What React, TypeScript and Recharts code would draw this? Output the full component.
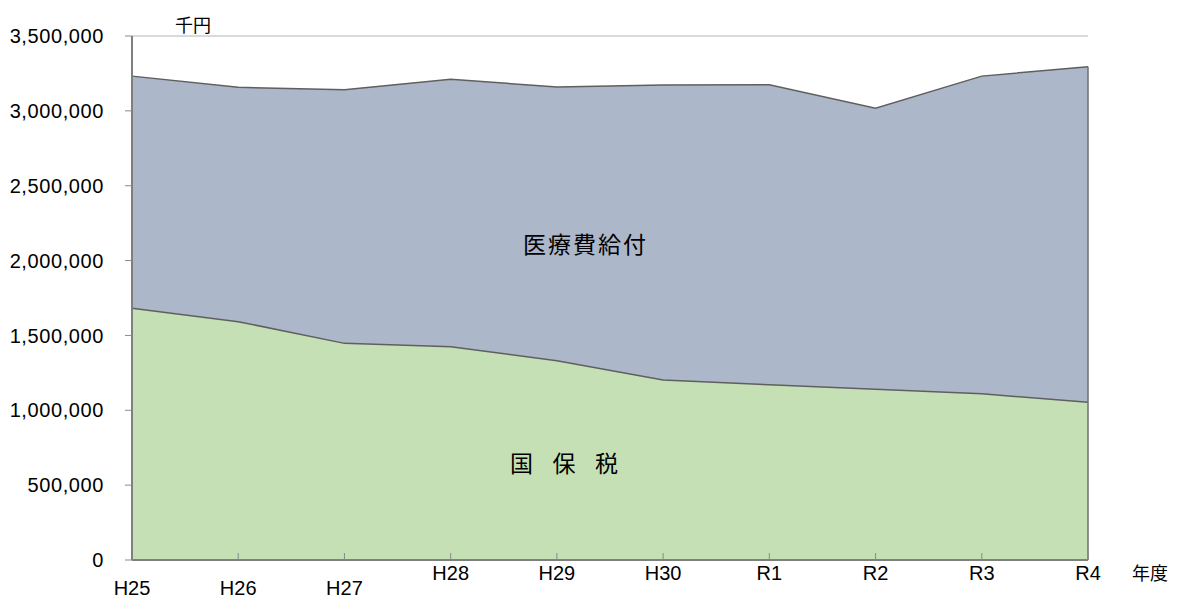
import React from 'react';
import { AreaChart, Area, XAxis, YAxis, CartesianGrid, ReferenceLine } from 'recharts';

const categories = ['H25', 'H26', 'H27', 'H28', 'H29', 'H30', 'R1', 'R2', 'R3', 'R4'];
const benefitValues = [3232000, 3157000, 3141000, 3211000, 3159000, 3173000, 3174000, 3017000, 3232000, 3295000];
const taxValues = [1681000, 1592000, 1447000, 1425000, 1331000, 1202000, 1170000, 1140000, 1110000, 1053000];
const yTicks = [0, 500000, 1000000, 1500000, 2000000, 2500000, 3000000, 3500000];

const benefitLabel = '医療費給付';
const taxLabel = '国 保 税';
const unitLabel = '千円';
const xUnitLabel = '年度';

const data = categories.map((c, i) => ({ year: c, benefit: benefitValues[i], tax: taxValues[i] }));

const NUM_FONT = '"Liberation Sans", Arial, sans-serif';
const CJK_FONT = '"Noto Sans CJK JP", "Noto Sans", sans-serif';

const fmt = (v: number) => v.toLocaleString('en-US');

const XTick = (props: any) => {
  const { x, y, payload, index } = props;
  const dy = index < 3 ? 28 : 13;
  return (
    <g>
      {index > 0 && <line x1={x} y1={y} x2={x} y2={y - 7} stroke="#8a8a8a" strokeWidth={1} />}
      <text x={x} y={y + dy} textAnchor="middle" dominantBaseline="central" fontFamily={NUM_FONT} fontSize={20} fill="#000">
        {payload.value}
      </text>
    </g>
  );
};

const Annotations = () => (
  <svg width={1179} height={599} style={{ position: 'absolute', left: 0, top: 0, pointerEvents: 'none' }}>
    <text x={193} y={24} textAnchor="middle" dominantBaseline="central" fontFamily={CJK_FONT} fontSize={18} fill="#000">{unitLabel}</text>
    <text x={1150} y={572} textAnchor="middle" dominantBaseline="central" fontFamily={CJK_FONT} fontSize={18} fill="#000">{xUnitLabel}</text>
    <text x={523} y={243} dominantBaseline="central" fontFamily={CJK_FONT} fontSize={23} fill="#000" textLength={123} lengthAdjust="spacing">{benefitLabel}</text>
    <text x={510} y={462} dominantBaseline="central" fontFamily={CJK_FONT} fontSize={23} fill="#000" textLength={108} lengthAdjust="spacing">{taxLabel}</text>
  </svg>
);

export default function App() {
  const last = data[data.length - 1];
  return (
    <div style={{ position: 'absolute', left: 0, top: 0, width: 1179, height: 599, background: '#fff' }}>
      <AreaChart width={1179} height={599} data={data} margin={{ top: 36, right: 91, bottom: 0, left: 0 }}>
        <CartesianGrid vertical={false} stroke="#b4b4b4" strokeWidth={1} />
        <XAxis
          dataKey="year"
          height={39}
          tick={<XTick />}
          tickLine={false}
          tickSize={0}
          tickMargin={0}
          axisLine={{ stroke: '#7f7f7f', strokeWidth: 2 }}
          interval={0}
        />
        <YAxis
          width={132}
          domain={[0, 3500000]}
          ticks={yTicks}
          tickFormatter={fmt}
          tick={{ fontFamily: NUM_FONT, fontSize: 20, fill: '#000', letterSpacing: 0.6 }}
          tickSize={7}
          tickMargin={21}
          tickLine={{ stroke: '#8a8a8a' }}
          axisLine={{ stroke: '#7f7f7f', strokeWidth: 2 }}
          interval={0}
        />
        <Area type="linear" dataKey="benefit" stroke="#5f5f5f" strokeWidth={1.5} fill="#adb7ca" fillOpacity={1} isAnimationActive={false} />
        <Area type="linear" dataKey="tax" stroke="#5f5f5f" strokeWidth={1.5} fill="#c5e0b4" fillOpacity={1} isAnimationActive={false} />
        <ReferenceLine segment={[{ x: last.year, y: 0 }, { x: last.year, y: last.benefit }]} stroke="#6f6f6f" strokeWidth={1.5} />
      </AreaChart>
      <Annotations />
    </div>
  );
}
